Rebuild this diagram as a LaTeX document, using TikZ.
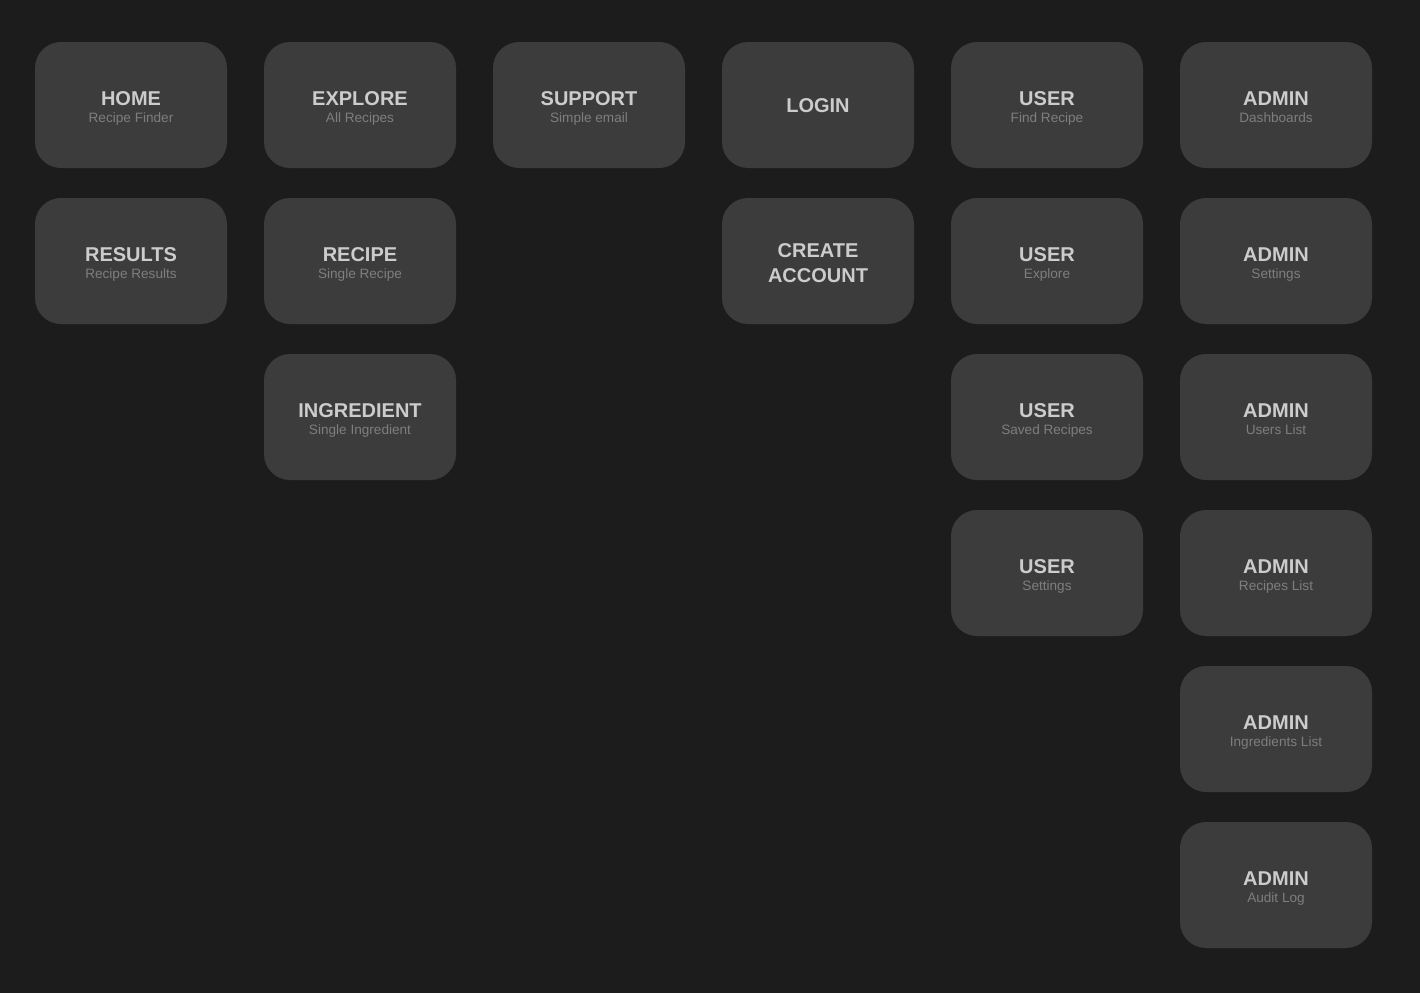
\documentclass[tikz,border=0pt]{standalone}
\usepackage{fontspec}
\setmainfont{Liberation Sans}
\usetikzlibrary{calc}
\definecolor{bgc}{HTML}{1C1C1C}
\definecolor{boxc}{HTML}{3C3C3C}
\definecolor{ttlc}{HTML}{CCCCCC}
\definecolor{subc}{HTML}{7E7E7E}
\tikzset{
  card/.style={fill=boxc, draw=none, rounded corners=26pt, minimum width=192pt, minimum height=126pt, inner sep=0pt},
  ttl/.style={text=ttlc, font=\fontsize{20}{24}\selectfont\bfseries, anchor=base, inner sep=0pt},
  sub/.style={text=subc, font=\fontsize{13.6}{16}\selectfont, anchor=base, inner sep=0pt}
}
\newcommand{\cardtwo}[5]{%
  \node[card] (#1) at (#2,#3) {};
  \node[ttl] (#1t) at ($(#1.center)+(0,0)$) {#4};
  \node[sub] (#1s) at ($(#1.center)+(0,17)$) {#5};
}
\begin{document}
\begin{tikzpicture}[x=1pt,y=-1pt]
\fill[bgc] (0,0) rectangle (1420,993);
\useasboundingbox (0,0) rectangle (1420,993);
% column 1
\cardtwo{home}{131}{105}{HOME}{Recipe Finder}
\cardtwo{results}{131}{261}{RESULTS}{Recipe Results}
% column 2
\cardtwo{explore}{360}{105}{EXPLORE}{All Recipes}
\cardtwo{recipe}{360}{261}{RECIPE}{Single Recipe}
\cardtwo{ingredient}{360}{417}{INGREDIENT}{Single Ingredient}
% column 3
\cardtwo{support}{589}{105}{SUPPORT}{Simple email}
% column 4
\node[card] (login) at (818,105) {};
\node[ttl] (logint) at ($(login.center)+(0,7)$) {LOGIN};
\node[card] (create) at (818,261) {};
\node[ttl] (createa) at ($(create.center)+(0,-4)$) {CREATE};
\node[ttl] (createb) at ($(create.center)+(0,21)$) {ACCOUNT};
% column 5
\cardtwo{ufind}{1047}{105}{USER}{Find Recipe}
\cardtwo{uexplore}{1047}{261}{USER}{Explore}
\cardtwo{usaved}{1047}{417}{USER}{Saved Recipes}
\cardtwo{usettings}{1047}{573}{USER}{Settings}
% column 6
\cardtwo{adash}{1276}{105}{ADMIN}{Dashboards}
\cardtwo{asettings}{1276}{261}{ADMIN}{Settings}
\cardtwo{ausers}{1276}{417}{ADMIN}{Users List}
\cardtwo{arecipes}{1276}{573}{ADMIN}{Recipes List}
\cardtwo{aingr}{1276}{729}{ADMIN}{Ingredients List}
\cardtwo{aaudit}{1276}{885}{ADMIN}{Audit Log}
\end{tikzpicture}
\end{document}
